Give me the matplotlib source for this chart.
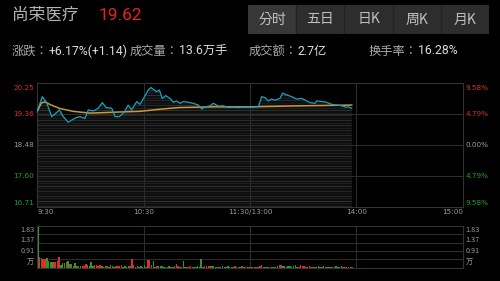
import numpy as np
import matplotlib
matplotlib.use("Agg")
import matplotlib.pyplot as plt

plt.rcParams['font.family'] = ['Noto Sans CJK TC', 'DejaVu Sans']

# ---- data ----
name = "尚荣医疗"
last_price = "19.62"
info = [("涨跌：", "+6.17%(+1.14)"), ("成交量：", "13.6万手"),
        ("成交额：", "2.7亿"), ("换手率：", "16.28%")]
tabs = ["分时", "五日", "日K", "周K", "月K"]

pre_close = 18.48
price_ticks = [20.25, 19.36, 18.48, 17.60, 16.71]
pct_ticks = ["9.58%", "4.79%", "0.00%", "4.79%", "9.58%"]
time_ticks = [0, 60, 120, 180, 240]
time_labels = ["9:30", "10:30", "11:30/13:00", "14:00", "15:00"]

# minutes after 9:30 (trading minutes)
price_min = [0, 3, 5.5, 8.3, 10, 12.6, 14.8, 17.6, 19.5, 22.4, 24.2, 27, 28.9,
             31.7, 34.5, 36.8, 38.9, 42.1, 44, 46.4, 49, 51.4, 53.3, 56.2, 58,
             60, 62.7, 64.2, 66.1, 67.4, 68.9, 70.6, 72.5, 74.9, 76.8, 78.7,
             80.6, 82.4, 85.3, 88, 90.9, 92.8, 94.6, 97.5, 99.3, 102.2, 105,
             107.8, 110.6, 113.4, 116.3, 120, 124.7, 126.6, 128.5, 130.3,
             132.2, 134.1, 136.9, 138.4, 140.7, 143.5, 146.3, 149.1, 151.9,
             153.8, 156.6, 157.6, 160.4, 163.2, 166, 168.8, 171.6, 174.1,
             175.4, 177.3]
price = [19.43, 19.86, 19.68, 19.29, 19.36, 19.48, 19.29, 19.13, 19.19, 19.27,
         19.29, 19.24, 19.48, 19.45, 19.53, 19.69, 19.55, 19.53, 19.29, 19.29,
         19.41, 19.62, 19.48, 19.72, 19.64, 19.81, 20.05, 20.12, 20.05, 20.00,
         20.05, 19.81, 19.89, 19.81, 19.70, 19.74, 19.67, 19.72, 19.70, 19.67,
         19.62, 19.51, 19.56, 19.60, 19.67, 19.59, 19.60, 19.55, 19.56, 19.55,
         19.56, 19.56, 19.57, 19.86, 19.83, 19.74, 19.79, 19.76, 19.81, 19.96,
         19.91, 19.86, 19.79, 19.81, 19.74, 19.69, 19.67, 19.74, 19.72, 19.70,
         19.64, 19.62, 19.60, 19.56, 19.57, 19.53]
avg_min = [0, 2.5, 4.5, 8, 13, 20.5, 30, 45, 58, 69, 80, 100, 120, 150, 177.3]
avg_price = [19.43, 19.68, 19.71, 19.62, 19.52, 19.44, 19.39, 19.42, 19.44,
             19.50, 19.55, 19.57, 19.57, 19.60, 19.62]

# volume per minute (万手), R = up, G = down
volume = [1.83, 0.47, 0.43, 0.36, 0.36, 0.42, 0.30, 0.24, 0.24, 0.24, 0.26, 0.30, 0.45,
          0.12, 0.20, 0.20, 0.24, 0.28, 0.15, 0.14, 0.08, 0.18, 0.06, 0.08, 0.05, 0.08,
          0.06, 0.15, 0.10, 0.06,
          0.23, 0.05, 0.10, 0.12, 0.08, 0.12, 0.05, 0.04, 0.08, 0.05, 0.04, 0.10, 0.06,
          0.04, 0.06, 0.05, 0.08, 0.10, 0.04, 0.06, 0.03, 0.06, 0.05, 0.38, 0.10, 0.04,
          0.05, 0.03, 0.08, 0.04,
          0.10, 0.04, 0.34, 0.34, 0.10, 0.28, 0.04, 0.06, 0.05, 0.06, 0.05, 0.04, 0.03,
          0.04, 0.05, 0.03, 0.04, 0.05, 0.17, 0.06, 0.04, 0.03, 0.27, 0.04, 0.03, 0.04,
          0.05, 0.04, 0.03, 0.04,
          0.05, 0.04, 0.39, 0.04, 0.05, 0.08, 0.08, 0.07, 0.05, 0.06, 0.04, 0.03, 0.04,
          0.03, 0.05, 0.03, 0.04, 0.06, 0.04, 0.03, 0.04, 0.05, 0.03, 0.04, 0.03, 0.05,
          0.04, 0.03, 0.04, 0.04,
          0.04, 0.03, 0.03, 0.04, 0.03, 0.05, 0.12, 0.04, 0.03, 0.04,
          0.03, 0.04, 0.03, 0.03, 0.04, 0.05, 0.09, 0.12, 0.08, 0.07,
          0.04, 0.05, 0.06, 0.04, 0.05, 0.13, 0.04, 0.03, 0.12, 0.05,
          0.06, 0.04, 0.03, 0.08, 0.04, 0.03, 0.04, 0.03, 0.06, 0.04,
          0.03, 0.05, 0.04, 0.04, 0.03, 0.04, 0.03, 0.04, 0.06, 0.04,
          0.03, 0.08, 0.04, 0.03, 0.04, 0.03, 0.04, 0.03]
vol_dir = ("GRRRRGGGGRRRR" "GGGRGGRRGGRGRRRRG"
           "GGRRRRGGGRGGGGRRRRGGGGRRRGGGGG"
           "GGRRRGGRGGGGGRGGGRRRGGGGRRRRGG"
           "GGGRRRRRGGGRGRGGGGGGRRGGGRGGGR"
           "RRGRGRRRGG" "GRRGGGRRGG" "GGGGGGGRRR" "RRGRRRGGGG" "GGGRGGRGGG" "GGRRGRRR")
vol_ticks = ["1.83", "1.37", "0.91", "万"]
vol_max = 1.83

RED = '#d8302a'
GREEN = '#2a9a2a'
GRAY = '#9a9a9a'
GRID = '#2c2c2c'

W, H = 500, 281
fig = plt.figure(figsize=(W / 100, H / 100), dpi=100, facecolor='black')


def box(l, t, r, b):
    return [l / W, 1 - b / H, (r - l) / W, (b - t) / H]


# ---- header ----
fig.text(12 / W, 1 - 15 / H, name, color='#b4b4b4', fontsize=12, va='center')
fig.text(99 / W, 1 - 15 / H, last_price, color='#e8231e', fontsize=12.5, va='center',
         family='Roboto')

tab_ax = fig.add_axes(box(248, 5, 489, 34))
tab_ax.set_xlim(0, 5)
tab_ax.set_ylim(0, 1)
tab_ax.axis('off')
for i, t in enumerate(tabs):
    tab_ax.add_patch(plt.Rectangle((i, 0), 1, 1, color='#383838' if i == 0 else '#2d2d2d'))
    if i > 0:
        tab_ax.axvline(i, color='#222222', lw=0.8)
    tab_ax.text(i + 0.5, 0.5, t, color='#c0c0c0', fontsize=10, ha='center', va='center')

info_x = [12, 130, 249, 369]
for x, (lab, val) in zip(info_x, info):
    t = fig.text(x / W, 1 - 51 / H, lab, color='#a8a8a8', fontsize=8.8, va='center')
    fig.canvas.draw()
    bb = t.get_window_extent()
    fig.text(bb.x1 / W, 1 - 51 / H, val, color='#dcdcdc', fontsize=8.8, va='center',
             family=['Roboto', 'Noto Sans CJK TC'])

# ---- price chart ----
ax = fig.add_axes(box(37, 83, 463, 207))
ax.set_facecolor('black')
ax.set_xlim(0, 240)
ax.set_ylim(price_ticks[-1], price_ticks[0])
for s in ax.spines.values():
    s.set_color('#333333')
    s.set_linewidth(0.8)
ax.set_xticks([])
ax.set_yticks([])

# striped area under the price line
poly = ax.fill_between(price_min, price, price_ticks[-1], color='#0e0e0e', lw=0, zorder=1)
clip = poly.get_paths()[0]
shades = ['#262626', '#1b1b1b', '#303030', '#202020', '#2a2a2a', '#181818']
for k, yy in enumerate(np.arange(price_ticks[-1] + 0.03, price_ticks[0], 0.072)):
    ln = ax.axhline(yy, color=shades[k % len(shades)], lw=0.7, zorder=2)
    ln.set_clip_path(clip, ax.transData)

for p in price_ticks[1:-1]:
    ax.axhline(p, color=GRID, lw=0.8, zorder=3)
for t in time_ticks[1:-1]:
    ax.axvline(t, color=GRID, lw=0.8, zorder=3)

ax.plot(avg_min, avg_price, color='#c89a3a', lw=1.1, zorder=4)
ax.plot(price_min, price, color='#1aa2c4', lw=0.9, zorder=5)

lab_cols = [RED, RED, GRAY, GREEN, GREEN]
lab_va = ['top', 'center', 'center', 'center', 'bottom']
for p, pc, c, va in zip(price_ticks, pct_ticks, lab_cols, lab_va):
    yy = p - 0.05 if va == 'top' else (p + 0.04 if va == 'bottom' else p)
    ax.text(-1.5, yy, f"{p:.2f}", color=c, fontsize=5.2, ha='right', va=va, family='DejaVu Sans')
    ax.text(241.5, yy, pc, color=c, fontsize=5.2, ha='left', va=va, family='DejaVu Sans')

ha_list = ['left', 'center', 'center', 'center', 'right']
for t, lab, ha in zip(time_ticks, time_labels, ha_list):
    ax.text(t, price_ticks[-1] - 0.13, lab, color=GRAY, fontsize=5.2, ha=ha, va='center',
            family='DejaVu Sans')

# ---- volume chart ----
vax = fig.add_axes(box(37, 226, 463, 267.5))
vax.set_facecolor('black')
vax.set_xlim(0, 240)
vax.set_ylim(0, vol_max)
for s in vax.spines.values():
    s.set_color('#333333')
    s.set_linewidth(0.8)
vax.set_xticks([])
vax.set_yticks([])
for k in range(1, 5):
    vax.axhline(vol_max * k / 5, color=GRID, lw=0.8, zorder=1)
for t in time_ticks[1:-1]:
    vax.axvline(t, color=GRID, lw=0.8, zorder=1)

cols = [RED if d == 'R' else GREEN for d in vol_dir]
vax.bar(np.arange(len(volume)) + 0.5, volume, width=0.85, color=cols, lw=0, zorder=2)

for lab, yy in zip(vol_ticks, [1.65, 1.21, 0.73, 0.24]):
    vax.text(-1.5, yy, lab, color=GRAY, fontsize=5.2, ha='right', va='center')
    vax.text(241.5, yy, lab, color=GRAY, fontsize=5.2, ha='left', va='center')

fig.savefig("out.png", dpi=100, facecolor='black')
